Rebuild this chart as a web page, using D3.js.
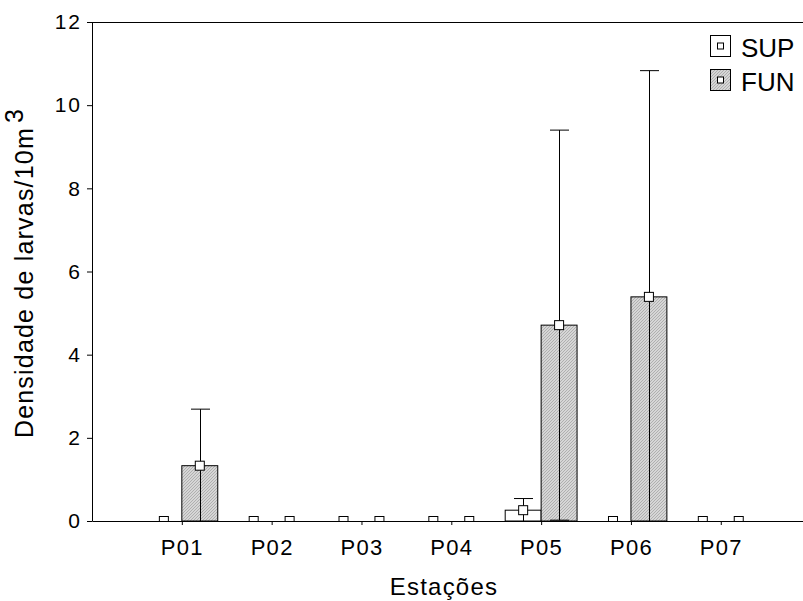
<!DOCTYPE html>
<html>
<head>
<meta charset="utf-8">
<script src="https://cdn.jsdelivr.net/npm/d3@7"></script>
<style>
  body { margin: 0; background: #fff; }
  svg { display: block; }
  text { font-family: "Liberation Sans", Arial, Helvetica, sans-serif; fill: #000; }
</style>
</head>
<body>
<svg id="chart" width="803" height="601"></svg>
<script>
// Larval density per station, surface (SUP) and bottom (FUN) tows: mean and standard deviation
const stations = ["P01", "P02", "P03", "P04", "P05", "P06", "P07"];
const seriesNames = ["SUP", "FUN"];
const supMean = [0, 0, 0, 0, 0.26, 0, 0];
const supSD   = [0, 0, 0, 0, 0.28, 0, 0];
const funMean = [1.33, 0, 0, 0, 4.71, 5.39, 0];
const funSD   = [1.36, 0, 0, 0, 4.69, 5.44, 0];
const yTicks  = [0, 2, 4, 6, 8, 10, 12];

const svg = d3.select("#chart");
const W = 803, H = 601;
const plotLeft = 92, plotTop = 22, plotBottom = 521;

// stations sit at 1..7 on a 0..8 linear axis; the right end runs past the page edge
const x = d3.scaleLinear().domain([0, stations.length + 1]).range([plotLeft, 810.6]);
const y = d3.scaleLinear().domain([0, 12]).range([plotBottom, plotTop]);
const half = 0.4;      // bar width in axis units
const capHalf = 9.5;   // error-bar cap half-width, px
const mark = 9;        // mean marker size, px

// fine diagonal hatch used for the FUN bars
const defs = svg.append("defs");
const pat = defs.append("pattern")
  .attr("id", "hatch")
  .attr("patternUnits", "userSpaceOnUse")
  .attr("width", 3).attr("height", 3);
pat.append("rect").attr("width", 3).attr("height", 3).attr("fill", "#d6d6d6");
pat.append("path")
  .attr("d", "M0,3 L3,0 M-1,1 L1,-1 M2,4 L4,2")
  .attr("stroke", "#a4a4a4").attr("stroke-width", 0.8);

defs.append("clipPath").attr("id", "plotClip")
  .append("rect").attr("x", plotLeft).attr("y", plotTop)
  .attr("width", W - plotLeft).attr("height", plotBottom - plotTop);

const series = [
  { name: seriesNames[0], mean: supMean, sd: supSD, offset: -half, fill: "#fff" },
  { name: seriesNames[1], mean: funMean, sd: funSD, offset: 0, fill: "url(#hatch)" }
];

const marks = svg.append("g").attr("clip-path", "url(#plotClip)");

// bars
series.forEach(s => {
  marks.append("g").selectAll("rect")
    .data(stations.map((st, i) => ({ i, v: s.mean[i] })))
    .join("rect")
    .attr("x", d => x(d.i + 1 + s.offset))
    .attr("width", d => x(d.i + 1 + s.offset + half) - x(d.i + 1 + s.offset))
    .attr("y", d => y(d.v))
    .attr("height", d => y(0) - y(d.v))
    .attr("fill", s.fill)
    .attr("stroke", "#000")
    .attr("stroke-width", 1);
});

// error bars (lower whisker falls below zero and is clipped by the axis)
series.forEach(s => {
  const eb = stations.map((st, i) => ({ i, m: s.mean[i], sd: s.sd[i] })).filter(d => d.sd > 0);
  const cx = d => Math.round(x(d.i + 1 + s.offset + half / 2)) + 0.5;
  const g = marks.append("g").attr("stroke", "#000").attr("stroke-width", 1);
  g.selectAll("line.v").data(eb).join("line").attr("class", "v")
    .attr("x1", cx).attr("x2", cx)
    .attr("y1", d => y(d.m - d.sd)).attr("y2", d => y(d.m + d.sd));
  g.selectAll("line.hi").data(eb).join("line").attr("class", "hi")
    .attr("x1", d => cx(d) - capHalf).attr("x2", d => cx(d) + capHalf)
    .attr("y1", d => y(d.m + d.sd)).attr("y2", d => y(d.m + d.sd));
  g.selectAll("line.lo").data(eb).join("line").attr("class", "lo")
    .attr("x1", d => cx(d) - capHalf).attr("x2", d => cx(d) + capHalf)
    .attr("y1", d => y(d.m - d.sd)).attr("y2", d => y(d.m - d.sd));
});

// mean markers
series.forEach(s => {
  marks.append("g").selectAll("rect")
    .data(stations.map((st, i) => ({ i, v: s.mean[i] })))
    .join("rect")
    .attr("x", d => x(d.i + 1 + s.offset + half / 2) - mark / 2)
    .attr("y", d => y(d.v) - mark / 2)
    .attr("width", mark).attr("height", mark)
    .attr("fill", "#fff").attr("stroke", "#000").attr("stroke-width", 1);
});

// axes
const yAxis = svg.append("g")
  .attr("transform", `translate(${plotLeft},0)`)
  .call(d3.axisLeft(y).tickValues(yTicks).tickSize(5).tickSizeOuter(0).tickPadding(5));
yAxis.selectAll("text").style("font-size", "21px").style("letter-spacing", "2px");

const xAxis = svg.append("g")
  .attr("transform", `translate(0,${plotBottom})`)
  .call(d3.axisBottom(x)
    .tickValues(stations.map((s, i) => i + 1))
    .tickFormat(v => stations[v - 1])
    .tickSize(4).tickSizeOuter(0).tickPadding(14));
xAxis.selectAll("text").style("font-size", "22px").style("letter-spacing", "1.3px");
svg.selectAll(".domain, .tick line").attr("stroke", "#000");

// top frame line
svg.append("line")
  .attr("x1", plotLeft).attr("x2", W)
  .attr("y1", plotTop + 0.5).attr("y2", plotTop + 0.5)
  .attr("stroke", "#000");

// axis titles
svg.append("text")
  .attr("x", 444).attr("y", 595)
  .attr("text-anchor", "middle")
  .style("font-size", "24px")
  .style("letter-spacing", "1.2px")
  .text("Estações");

const yTitle = svg.append("text")
  .attr("transform", "translate(33,273) rotate(-90)")
  .attr("text-anchor", "middle")
  .style("font-size", "25px")
  .style("letter-spacing", "1.2px");
yTitle.append("tspan").text("Densidade de larvas/10m");
yTitle.append("tspan").attr("dx", 4).attr("dy", -10).text("3");

// legend
const legend = svg.append("g").attr("transform", "translate(710,35)");
series.forEach((s, k) => {
  const g = legend.append("g").attr("transform", `translate(0,${k * 34})`);
  g.append("rect").attr("x", 0.5).attr("y", 0.5).attr("width", 20).attr("height", 21)
    .attr("fill", s.fill).attr("stroke", "#000");
  g.append("rect").attr("x", 7.5).attr("y", 8).attr("width", 6).attr("height", 6)
    .attr("fill", "#fff").attr("stroke", "#000");
  g.append("text").attr("x", 31).attr("y", 22)
    .style("font-size", "26px").text(s.name);
});
</script>
</body>
</html>
